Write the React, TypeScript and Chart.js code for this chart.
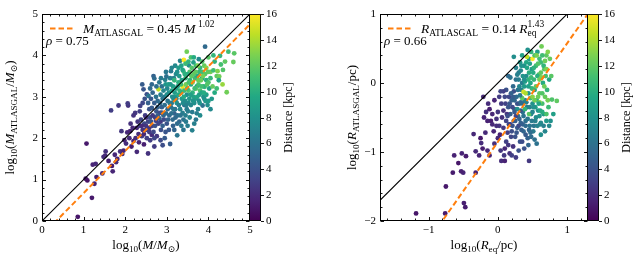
import React, { useEffect, useRef } from 'react';
import { Chart, registerables } from 'chart.js';

Chart.register(...registerables);

const FONT = "'Liberation Serif', 'DejaVu Serif', serif";

// [log10(M/Msun), log10(M_ATLASGAL/Msun), distance kpc]
const massPoints: [number, number, number][] = [
  [0.86,0.10,1.0],[1.07,1.87,1.1],[1.05,1.02,1.3],[1.09,0.98,0.8],[1.20,0.56,1.1],[1.22,1.36,1.6],[1.29,1.38,1.9],[1.31,1.06,1.4],
  [1.26,0.90,1.5],[1.45,1.15,1.8],[1.48,1.55,2.0],[1.53,1.68,2.2],[1.52,1.58,1.9],[1.68,1.33,1.2],[1.70,1.20,1.7],[1.78,1.42,2.0],
  [1.81,1.50,1.6],[1.66,2.67,2.9],[1.84,2.79,2.6],[1.93,1.62,1.9],[1.88,1.68,2.2],[1.96,1.70,1.5],[2.07,2.79,2.4],[2.06,2.84,2.8],
  [2.02,1.87,2.1],[2.05,2.14,1.8],[2.12,2.17,1.6],[1.91,2.17,2.5],[2.13,2.35,2.2],[2.20,1.93,1.5],[2.24,2.61,2.6],[2.28,1.67,1.9],
  [2.55,1.63,2.3],[2.41,3.30,4.6],[2.44,3.18,4.2],[2.52,3.06,3.8],[2.36,2.78,3.0],[2.30,2.40,2.4],[2.28,2.25,1.7],[2.40,2.05,2.7],
  [2.45,1.85,1.4],[2.50,2.20,3.1],[2.48,2.55,2.9],[2.55,2.40,3.4],[2.58,2.70,4.0],[2.64,2.08,2.0],[2.65,2.30,3.3],[2.64,2.73,4.5],
  [2.70,1.80,2.8],[2.72,2.50,3.0],[2.75,2.65,4.3],[2.68,3.50,5.0],[2.70,3.44,5.5],[2.56,3.02,6.2],[2.80,3.18,14.5],[2.84,2.61,3.5],
  [2.85,2.40,2.6],[2.88,2.75,4.8],[2.90,1.83,3.8],[2.92,2.55,5.2],[2.96,3.41,7.0],[2.99,3.49,6.0],[3.00,2.35,4.1],[3.02,2.70,5.5],
  [3.05,3.10,8.0],[3.10,3.62,6.5],[3.17,3.45,7.2],[3.08,1.86,4.7],[3.12,2.85,6.8],[3.15,3.25,9.0],[3.18,2.60,5.0],[3.20,3.00,8.5],
  [3.22,3.55,7.5],[3.25,2.07,6.2],[3.28,3.35,10.0],[3.30,2.40,5.4],[3.32,3.87,7.0],[3.35,3.10,9.5],[3.38,2.61,6.8],[3.38,3.24,15.5],
  [3.41,3.89,16.0],[3.48,4.09,12.5],[3.40,3.62,11.0],[3.42,2.80,5.8],[3.45,3.45,10.5],[3.48,3.05,8.0],[3.52,2.85,7.5],[3.53,3.76,8.0],
  [3.55,3.60,11.5],[3.58,3.30,9.8],[3.61,2.63,6.5],[3.61,2.19,7.0],[3.62,3.10,10.2],[3.64,3.83,9.0],[3.65,3.55,12.0],[3.68,2.95,8.8],
  [3.70,3.75,11.0],[3.72,3.25,9.0],[3.75,2.70,7.0],[3.77,3.91,7.5],[3.77,2.91,7.8],[3.78,3.60,10.5],[3.80,3.15,11.5],[3.86,2.79,6.0],
  [3.85,3.45,9.5],[3.88,3.00,8.2],[3.90,3.75,12.2],[3.92,4.21,5.5],[3.91,3.24,10.8],[3.95,3.40,10.0],[3.98,2.80,7.8],[4.00,3.95,11.8],
  [4.02,3.20,9.2],[4.05,3.60,12.5],[4.08,2.95,8.5],[4.12,3.64,11.0],[4.12,4.00,10.5],[4.15,3.10,9.8],[4.20,3.50,12.0],[4.26,3.49,12.5],
  [4.28,3.99,10.5],[4.30,3.78,11.2],[4.34,3.30,13.5],[4.44,3.11,12.5],[4.48,4.09,11.0],[4.62,4.05,11.8],[4.60,3.84,12.2],[4.05,2.70,7.5],
  [3.35,2.30,6.5],
  [2.32,2.10,2.1],[2.35,2.30,2.8],[2.38,2.45,3.2],[2.42,2.20,2.4],[2.46,2.35,3.6],[2.50,2.50,2.2],[2.52,2.00,3.0],[2.58,2.25,2.5],
  [2.60,2.50,3.8],[2.62,2.40,4.2],[2.66,2.55,2.7],[2.68,2.15,3.5],[2.72,2.30,4.0],[2.74,2.42,3.1],[2.76,2.05,2.6],[2.78,2.55,4.6],
  [2.80,2.35,3.3],[2.82,2.48,5.0],[2.86,2.20,3.9],[2.88,2.62,4.4],[2.90,2.30,4.8],[2.93,2.45,3.6],[2.95,2.80,5.8],[2.97,2.15,4.2],
  [2.35,2.65,2.9],[2.42,2.85,3.4],[2.47,2.95,4.0],[2.55,2.85,4.8],[2.60,3.20,5.5],[2.62,2.95,4.4],[2.66,3.10,5.2],[2.70,2.85,4.6],
  [2.74,3.00,6.0],[2.78,2.90,5.4],[2.82,3.35,6.3],[2.85,3.05,6.8],[2.88,3.25,6.0],[2.92,3.15,7.2],[2.94,3.00,6.5],[2.97,3.30,8.2],
  [2.45,2.10,1.8],[2.25,2.00,2.0],[2.18,2.25,1.8],[2.60,1.95,2.9],[2.70,2.00,3.3],[2.85,1.95,3.6],[2.95,2.00,4.5],
  [3.00,3.05,7.8],[3.02,2.90,6.2],[3.04,3.30,8.8],[3.06,2.55,5.3],[3.08,3.45,7.0],[3.10,2.75,6.0],[3.12,3.15,9.2],[3.14,2.45,5.6],
  [3.16,2.95,7.6],[3.18,3.40,10.5],[3.20,2.70,6.4],[3.22,3.20,9.0],[3.24,2.85,8.0],[3.26,2.55,5.8],[3.28,3.05,9.6],[3.30,3.50,8.5],
  [3.32,2.70,7.2],[3.34,3.30,11.0],[3.36,2.95,8.6],[3.38,3.65,9.4],[3.40,2.45,6.0],[3.42,3.15,10.8],[3.44,2.90,7.7],[3.46,3.30,12.5],
  [3.48,2.70,6.6],[3.50,3.55,9.9],[3.52,3.15,11.5],[3.54,2.95,8.4],[3.56,3.40,10.2],[3.58,2.80,7.4],[3.60,3.70,11.6],[3.62,3.35,12.8],
  [3.64,3.00,9.2],[3.66,2.85,7.8],[3.68,3.45,10.8],[3.70,3.20,12.0],[3.72,2.60,6.8],[3.74,3.50,9.6],[3.76,3.30,11.2],[3.78,3.05,8.8],
  [3.80,3.70,10.4],[3.82,3.40,12.4],[3.84,3.10,9.4],[3.86,3.60,11.0],[3.88,3.25,10.2],[3.90,2.95,8.0],[3.15,2.30,5.0],[3.25,2.35,5.6],
  [3.45,2.55,6.8],[3.55,2.50,7.2],[3.70,2.45,6.4],[3.50,2.30,6.8],[3.20,3.75,7.4],[3.28,3.70,8.6],[3.45,3.80,10.8],[3.58,3.95,11.4],
  [3.65,3.95,9.8],[3.75,3.75,12.8],[3.85,3.85,11.6],[3.95,3.70,13.0],[4.00,3.35,11.4],[4.05,3.45,10.6],[4.10,3.25,12.2],[4.15,3.85,10.2],
  [4.20,3.20,11.0],[4.22,3.62,13.0],[4.25,3.40,9.4],[4.35,3.65,11.6],[4.40,3.85,12.0],[3.95,3.05,9.0],[4.00,2.90,8.6],[3.92,3.55,11.8],
  [2.98,2.60,5.6],[3.01,3.20,7.4],[3.03,2.45,4.9],[3.07,2.85,6.6],[3.09,3.30,8.4],[3.11,2.60,5.9],[3.13,3.00,7.8],[3.16,2.70,6.3],
  [3.19,3.10,8.9],[3.21,2.50,5.5],[3.23,2.95,7.3],[3.26,3.25,9.3],[3.29,2.80,6.9],[3.31,3.15,10.4],[3.33,2.55,6.1],[3.36,3.40,9.1],
  [3.39,2.85,7.6],[3.41,3.00,9.7],[3.43,3.55,10.1],[3.47,2.80,7.0],[3.49,3.20,10.6],[3.51,2.65,6.8],[3.53,3.35,11.3],[3.57,3.05,9.0],
  [3.59,3.50,11.9],[3.63,2.90,8.2],[3.67,3.20,10.9],[3.69,3.60,12.1],[3.73,3.00,9.3],[3.76,3.40,12.3],[3.79,2.85,8.1],[3.83,3.25,11.1],
  [3.87,3.50,12.6],[3.89,3.10,9.8],[3.93,2.90,8.4],[3.97,3.30,11.6],[3.99,3.60,12.0],[3.05,2.20,4.4],[3.18,2.20,5.2],[3.40,2.20,6.2],
  [3.46,2.40,6.6],[3.66,2.35,6.9],[3.80,2.55,7.6],[2.98,3.60,6.4],[3.12,3.70,7.2],[3.25,3.60,8.0],[3.35,3.75,9.2],[3.52,3.85,10.4],
  [2.78,2.75,4.9],[2.84,2.85,5.7],[2.90,2.95,6.2],[2.86,3.45,6.6],[2.75,3.25,5.8],[2.64,3.30,5.4],[2.58,2.15,2.8],[2.50,2.30,2.5],
  [2.40,2.30,2.0],[2.33,1.90,1.6],[2.15,1.80,1.3],[2.20,2.55,2.4],[1.98,1.95,1.7],[2.10,2.00,2.0],[1.75,1.60,1.8],[1.60,1.45,1.3],
];

// [log10(Req/pc), log10(R_ATLASGAL/pc), distance kpc]
const radiusPoints: [number, number, number][] = [
  [-1.18,-1.89,1.0],[-0.76,-1.89,1.2],[-0.75,-1.50,1.1],[-0.49,-1.74,1.4],[-0.47,-1.80,1.3],[-0.63,-1.05,1.5],[-0.65,-1.30,1.2],
  [-0.50,-1.30,1.7],[-0.53,-1.28,1.4],[-0.57,-1.16,1.0],[-0.52,-1.02,1.6],[-0.46,-1.06,1.2],[-0.35,-0.74,1.8],[-0.32,-1.30,1.4],
  [-0.32,-0.99,1.9],[-0.24,-0.87,2.0],[-0.21,-0.20,1.9],[-0.27,-1.05,1.6],[-0.22,-0.95,1.3],[-0.15,-0.98,1.7],[-0.12,-1.05,1.5],
  [-0.25,-0.80,1.1],[-0.18,-0.72,1.9],[-0.20,-0.50,1.6],[-0.17,-0.42,2.2],[-0.12,-0.38,1.4],[-0.14,-0.30,2.0],[-0.08,-0.45,1.8],
  [-0.10,-0.55,1.3],[-0.06,-0.70,1.7],[-0.05,-0.88,2.1],[-0.02,-0.52,2.3],[-0.05,-0.25,1.7],[0.00,-0.80,1.9],[0.02,-0.62,2.4],
  [0.04,-0.98,2.5],[0.05,-1.13,2.0],[0.10,-1.13,1.5],[0.09,-1.05,2.6],[0.12,-0.85,3.0],[0.14,-0.72,2.8],[0.17,-1.02,2.2],
  [0.45,-1.13,2.6],[0.08,-0.40,2.0],[0.05,-0.30,2.8],[0.12,-0.55,3.2],[0.03,-0.75,1.6],[-0.02,-0.62,2.1],[0.10,-0.95,1.8],
  [0.15,-0.90,2.5],[0.20,-1.05,3.0],[0.22,-0.92,2.3],[0.30,-0.98,4.0],[0.26,-1.08,2.8],
  [0.10,-0.20,3.5],[0.12,-0.10,4.0],[0.15,-0.35,4.2],[0.16,-0.60,3.6],[0.18,-0.45,4.8],[0.20,-0.25,5.0],[0.20,-0.70,3.8],
  [0.22,-0.05,5.5],[0.23,-0.55,4.4],[0.24,-0.38,5.2],[0.25,-0.78,4.0],[0.26,0.05,6.0],[0.27,-0.20,5.6],[0.28,-0.65,4.6],
  [0.29,-0.48,5.8],[0.30,0.15,6.5],[0.31,-0.30,6.0],[0.32,-0.85,4.2],[0.33,-0.58,5.0],[0.34,-0.10,7.0],[0.35,0.00,6.6],
  [0.36,-0.42,6.2],[0.37,-0.70,5.4],[0.38,0.25,8.0],[0.39,-0.25,7.2],[0.40,-0.55,5.8],[0.41,0.10,7.6],[0.42,-0.35,6.8],
  [0.43,-0.80,5.0],[0.44,-0.15,8.4],[0.45,0.35,9.0],[0.46,-0.62,6.2],[0.47,0.00,9.6],[0.48,-0.45,7.4],[0.49,0.20,8.8],
  [0.50,0.35,16.0],[0.50,-0.30,8.0],[0.51,-0.70,6.6],[0.52,0.05,10.5],[0.53,-0.10,9.2],[0.54,-0.55,7.0],[0.55,0.25,11.0],
  [0.56,-0.25,10.0],[0.57,0.45,9.0],[0.56,-0.88,6.0],[0.58,-0.40,8.2],[0.59,0.12,11.5],[0.60,-0.15,12.0],[0.61,-0.60,7.6],
  [0.62,0.30,10.8],[0.63,0.53,12.5],[0.64,-0.30,11.2],[0.65,0.00,9.8],[0.66,-0.45,8.6],[0.67,0.20,11.8],[0.68,-0.70,7.2],
  [0.70,0.40,12.0],[0.71,-0.10,10.4],[0.72,-0.25,12.6],[0.74,0.05,9.4],[0.75,0.35,12.2],[0.76,-0.55,8.0],[0.78,-0.24,11.5],
  [0.85,-0.26,12.0],[0.72,0.45,13.0],[0.62,-0.75,7.8],[0.37,-0.13,15.0],[0.40,-0.15,14.0],[0.35,0.40,9.0],[0.32,0.30,8.5],
  [0.02,-0.20,2.8],[0.06,-0.50,2.2],[0.08,-0.65,2.6],[0.11,-0.30,3.1],[0.13,-0.45,2.4],[0.16,-0.20,3.4],[0.18,-0.60,2.9],
  [0.19,-0.78,3.3],[0.21,-0.35,3.6],[0.23,-0.12,3.9],[0.26,-0.48,3.2],[0.28,-0.30,4.1],[0.30,-0.62,3.5],[0.33,-0.40,4.4],
  [0.35,-0.85,3.7],[0.36,-0.60,4.8],[0.38,-0.95,4.0],[0.40,-0.75,4.6],[0.44,-0.90,5.2],[0.48,-0.78,5.6],[0.52,-0.62,6.2],
  [0.45,-0.68,5.4],
  [0.30,0.05,6.8],[0.33,0.18,7.4],[0.36,0.10,8.2],[0.39,0.02,8.8],[0.42,0.22,9.4],[0.44,0.05,10.2],[0.46,0.28,9.0],
  [0.47,-0.22,11.0],[0.49,-0.08,10.6],[0.51,0.15,9.8],[0.53,0.40,11.4],[0.54,-0.35,9.2],[0.55,-0.05,12.0],[0.57,0.10,10.0],
  [0.58,-0.20,12.4],[0.60,0.35,11.0],[0.61,-0.40,9.6],[0.63,0.08,12.8],[0.64,-0.15,11.6],[0.66,0.25,10.4],[0.68,-0.20,12.2],
  [0.69,0.10,11.2],[0.73,-0.35,10.8],[0.80,-0.45,9.0],[0.70,-0.45,11.4],[0.48,0.45,10.5],[0.56,0.40,12.8],[0.43,0.48,8.0],
  [0.42,0.38,14.5],[0.26,0.22,7.0],[0.28,-0.38,8.0],[0.18,0.08,6.2],[0.15,0.10,5.5],[0.23,0.38,7.8],[0.35,-0.22,12.0],
  [0.39,-0.38,10.5],[0.45,-0.45,11.8],[0.50,-0.20,13.2],[0.60,-0.28,13.0],[0.53,-0.25,12.5],
  [0.14,-0.48,3.8],[0.17,-0.30,4.4],[0.19,-0.15,4.9],[0.21,-0.62,4.1],[0.24,-0.25,5.3],[0.25,-0.55,4.7],[0.27,-0.72,4.3],
  [0.29,-0.10,6.2],[0.31,-0.52,5.1],[0.32,-0.18,6.4],[0.34,-0.68,4.9],[0.36,-0.30,5.7],[0.37,-0.48,6.1],[0.38,0.05,7.9],
  [0.40,-0.62,5.5],[0.41,-0.28,6.9],[0.43,-0.52,6.3],[0.44,-0.05,9.1],[0.46,-0.35,7.1],[0.47,-0.72,5.7],[0.49,-0.55,6.5],
  [0.50,-0.42,7.3],[0.52,-0.35,8.1],[0.53,-0.82,5.9],[0.55,-0.50,7.7],[0.57,-0.62,7.1],[0.59,-0.30,9.5],[0.60,-0.48,8.3],
  [0.62,-0.58,7.5],[0.64,-0.42,9.9],[0.66,-0.62,7.0],[0.70,-0.55,8.5],[0.74,-0.62,7.4],[0.28,0.12,7.0],[0.31,-0.05,7.3],
  [0.34,0.25,8.2],[0.41,0.30,9.6],[0.52,0.22,10.2],[0.58,0.28,11.6],[0.64,0.40,11.0],[0.67,-0.05,12.4],[0.62,0.15,12.0],
  [0.48,0.08,10.8],[0.45,0.15,9.9],[0.38,-0.05,8.7],[0.33,-0.28,5.5],[0.24,-0.42,4.5],[0.22,-0.20,4.7],[0.08,-0.12,3.0],
  [-0.08,-0.60,1.8],[-0.15,-0.55,1.5],[0.00,-0.42,2.5],[0.04,-0.12,3.3],[0.60,0.05,12.6],[0.70,0.20,12.8],[0.77,0.10,11.8],
  [0.68,0.32,12.4],
];

const massTicks = [0, 1, 2, 3, 4, 5];
const radiusXTicks = [-1, 0, 1];
const radiusYTicks = [-2, -1, 0, 1];
const distanceTicks = [0, 2, 4, 6, 8, 10, 12, 14, 16];
const distanceRange = [0, 16];

const massFit = { a: 0.45, b: 1.02, rho: '0.75', aText: '0.45', bText: '1.02' };
const radiusFit = { a: 0.14, b: 1.43, rho: '0.66', aText: '0.14', bText: '1.43' };

const VIRIDIS = [
  '#440154', '#482475', '#414487', '#355f8d', '#2a788e', '#21918c',
  '#22a884', '#44bf70', '#7ad151', '#bddf26', '#fde725',
];

function hexToRgb(h: string) {
  return [parseInt(h.slice(1, 3), 16), parseInt(h.slice(3, 5), 16), parseInt(h.slice(5, 7), 16)];
}

function viridis(t: number) {
  const c = Math.max(0, Math.min(1, t)) * (VIRIDIS.length - 1);
  const i = Math.min(Math.floor(c), VIRIDIS.length - 2);
  const f = c - i;
  const a = hexToRgb(VIRIDIS[i]);
  const b = hexToRgb(VIRIDIS[i + 1]);
  const m = a.map((v, k) => Math.round(v + (b[k] - v) * f));
  return `rgb(${m[0]},${m[1]},${m[2]})`;
}

type Seg = { t: string; it?: boolean; sub?: boolean; sup?: boolean; stack?: boolean };

function segFont(s: Seg, size: number) {
  const sz = s.sub || s.sup ? size * 0.7 : size;
  return `${s.it ? 'italic ' : ''}${sz}px ${FONT}`;
}

function richWidth(ctx: CanvasRenderingContext2D, segs: Seg[], size: number) {
  let w = 0;
  for (const s of segs) {
    ctx.font = segFont(s, size);
    if (!s.stack) w += ctx.measureText(s.t).width;
  }
  return w;
}

function drawRich(ctx: CanvasRenderingContext2D, segs: Seg[], x: number, y: number, size: number, align: 'left' | 'center') {
  const w = richWidth(ctx, segs, size);
  let cx = align === 'center' ? x - w / 2 : x;
  ctx.textAlign = 'left';
  ctx.textBaseline = 'alphabetic';
  for (const s of segs) {
    ctx.font = segFont(s, size);
    const dy = s.sub ? size * 0.25 : s.sup ? -size * 0.42 : 0;
    ctx.fillText(s.t, cx, y + dy);
    if (!s.stack) cx += ctx.measureText(s.t).width;
  }
}

type PanelCfg = {
  xTitle: Seg[];
  yTitle: Seg[];
  yTitleX: number;
  legend: Seg[];
  rho: Seg[];
};

const MINOR = 0.2;

function makePanelPlugin(cfg: PanelCfg) {
  return {
    id: 'panelDecor',
    afterDraw(chart: any) {
      const { ctx, chartArea: a, scales } = chart;
      const xs = scales.x, ys = scales.y, cs = scales.cb;
      const L = Math.round(a.left) + 0.5, R = Math.round(a.right) - 0.5;
      const T = Math.round(a.top) + 0.5, B = Math.round(a.bottom) - 0.5;
      ctx.save();
      ctx.strokeStyle = '#000';
      ctx.fillStyle = '#000';
      ctx.lineWidth = 0.9;

      const isMajor = (v: number) => Math.abs(v - Math.round(v)) < 1e-6;
      for (let k = Math.ceil(xs.min / MINOR - 1e-6); k * MINOR <= xs.max + 1e-6; k++) {
        const v = k * MINOR;
        const len = isMajor(v) ? 3.5 : 2;
        const px = Math.round(xs.getPixelForValue(v)) + 0.5;
        ctx.beginPath();
        ctx.moveTo(px, B); ctx.lineTo(px, B - len);
        ctx.moveTo(px, T); ctx.lineTo(px, T + len);
        ctx.stroke();
      }
      for (let k = Math.ceil(ys.min / MINOR - 1e-6); k * MINOR <= ys.max + 1e-6; k++) {
        const v = k * MINOR;
        const len = isMajor(v) ? 3.5 : 2;
        const py = Math.round(ys.getPixelForValue(v)) + 0.5;
        ctx.beginPath();
        ctx.moveTo(L, py); ctx.lineTo(L + len, py);
        ctx.moveTo(R, py); ctx.lineTo(R - len, py);
        ctx.stroke();
      }
      ctx.lineWidth = 1;
      ctx.strokeRect(L, T, R - L, B - T);

      // colorbar
      const cbL = a.right, cbW = 11;
      const y0 = cs.getPixelForValue(distanceRange[0]);
      const y1 = cs.getPixelForValue(distanceRange[1]);
      const g = ctx.createLinearGradient(0, y0, 0, y1);
      for (let i = 0; i <= 20; i++) g.addColorStop(i / 20, viridis(i / 20));
      ctx.fillStyle = g;
      ctx.fillRect(cbL, y1, cbW, y0 - y1);
      ctx.strokeStyle = '#000';
      ctx.lineWidth = 0.9;
      ctx.strokeRect(Math.round(cbL) - 0.5, Math.round(y1) + 0.5, cbW, Math.round(y0 - y1) - 1);
      ctx.fillStyle = '#000';
      ctx.font = `11px ${FONT}`;
      ctx.textAlign = 'left';
      ctx.textBaseline = 'middle';
      for (const v of distanceTicks) {
        const py = Math.round(cs.getPixelForValue(v)) + 0.5;
        ctx.beginPath();
        ctx.moveTo(cbL + cbW, py); ctx.lineTo(cbL + cbW + 3, py);
        ctx.stroke();
        ctx.fillText(String(v), cbL + cbW + 5, py);
      }
      ctx.save();
      ctx.translate(cbL + cbW + 28, (a.top + a.bottom) / 2);
      ctx.rotate(-Math.PI / 2);
      ctx.font = `12px ${FONT}`;
      ctx.textAlign = 'center';
      ctx.textBaseline = 'middle';
      ctx.fillText('Distance [kpc]', 0, 0);
      ctx.restore();

      // axis titles
      ctx.fillStyle = '#000';
      drawRich(ctx, cfg.xTitle, (a.left + a.right) / 2, 249, 13, 'center');
      ctx.save();
      ctx.translate(cfg.yTitleX, (a.top + a.bottom) / 2);
      ctx.rotate(-Math.PI / 2);
      drawRich(ctx, cfg.yTitle, 0, 0, 13, 'center');
      ctx.restore();

      // legend
      ctx.save();
      ctx.strokeStyle = '#ff7f0e';
      ctx.lineWidth = 2;
      ctx.setLineDash([5.5, 3]);
      ctx.beginPath();
      ctx.moveTo(a.left + 8, 28.5);
      ctx.lineTo(a.left + 31, 28.5);
      ctx.stroke();
      ctx.restore();
      drawRich(ctx, cfg.legend, a.left + 41, 32.5, 13.5, 'left');
      drawRich(ctx, cfg.rho, a.left + 4, 44.5, 13, 'left');
      ctx.restore();
    },
  };
}

function fmt(v: number) {
  return v < 0 ? '\u2212' + Math.abs(v) : String(v);
}

type PanelProps = {
  points: [number, number, number][];
  xRange: [number, number];
  yRange: [number, number];
  xTicks: number[];
  yTicks: number[];
  fit: { a: number; b: number };
  yAxisWidth: number;
  rightPad: number;
  cfg: PanelCfg;
};

function Panel(p: PanelProps) {
  const ref = useRef<HTMLCanvasElement>(null);
  useEffect(() => {
    const [x0, x1] = p.xRange;
    const la = Math.log10(p.fit.a);
    const chart = new Chart(ref.current!, {
      type: 'scatter',
      data: {
        datasets: [
          {
            type: 'line',
            data: [{ x: x0, y: la + p.fit.b * x0 }, { x: x1, y: la + p.fit.b * x1 }],
            borderColor: '#ff7f0e',
            borderWidth: 2,
            borderDash: [5.5, 3],
            pointRadius: 0,
            fill: false,
            clip: 0,
          } as any,
          {
            type: 'line',
            data: [{ x: x0, y: x0 }, { x: x1, y: x1 }],
            borderColor: '#000',
            borderWidth: 1.1,
            pointRadius: 0,
            fill: false,
            clip: 0,
          } as any,
          {
            data: p.points.map(([x, y]) => ({ x, y })),
            pointRadius: 2.4,
            pointBorderWidth: 0,
            pointBackgroundColor: p.points.map((q) => viridis((q[2] - distanceRange[0]) / (distanceRange[1] - distanceRange[0]))),
          } as any,
        ],
      },
      options: {
        responsive: false,
        animation: false,
        events: [],
        layout: { padding: { left: 0, top: 14, right: p.rightPad, bottom: 0 } },
        plugins: { legend: { display: false }, tooltip: { enabled: false } },
        scales: {
          x: {
            type: 'linear',
            min: x0,
            max: x1,
            afterBuildTicks: (s: any) => { s.ticks = p.xTicks.map((v) => ({ value: v })); },
            afterFit: (s: any) => { s.height = 43; },
            grid: { display: false, drawTicks: false, tickLength: 0 },
            border: { display: false },
            ticks: {
              autoSkip: false,
              maxRotation: 0,
              padding: 3,
              color: '#000',
              font: { family: FONT, size: 11 },
              callback: (v: any) => fmt(Number(v)),
            },
          },
          y: {
            type: 'linear',
            min: p.yRange[0],
            max: p.yRange[1],
            afterBuildTicks: (s: any) => { s.ticks = p.yTicks.map((v) => ({ value: v })); },
            afterFit: (s: any) => { s.width = p.yAxisWidth; },
            grid: { display: false, drawTicks: false, tickLength: 0 },
            border: { display: false },
            ticks: {
              autoSkip: false,
              padding: 4,
              color: '#000',
              font: { family: FONT, size: 11 },
              callback: (v: any) => fmt(Number(v)),
            },
          },
          cb: {
            type: 'linear',
            axis: 'y',
            position: 'right',
            display: false,
            min: distanceRange[0],
            max: distanceRange[1],
          },
        },
      } as any,
      plugins: [makePanelPlugin(p.cfg)],
    });
    return () => chart.destroy();
  }, []);
  return <canvas ref={ref} width={321} height={264} style={{ display: 'block', width: 321, height: 264 }} />;
}

const massCfg: PanelCfg = {
  xTitle: [{ t: 'log' }, { t: '10', sub: true }, { t: '(' }, { t: 'M', it: true }, { t: '/' }, { t: 'M', it: true }, { t: '\u2299', sub: true }, { t: ')' }],
  yTitle: [{ t: 'log' }, { t: '10', sub: true }, { t: '(' }, { t: 'M', it: true }, { t: 'ATLASGAL', sub: true }, { t: '/' }, { t: 'M', it: true }, { t: '\u2299', sub: true }, { t: ')' }],
  yTitleX: 14,
  legend: [{ t: 'M', it: true }, { t: 'ATLASGAL', sub: true }, { t: ' = ' + massFit.aText + ' ' }, { t: 'M', it: true }, { t: ' ' + massFit.bText, sup: true }],
  rho: [{ t: '\u03c1', it: true }, { t: ' = ' + massFit.rho }],
};

const radiusCfg: PanelCfg = {
  xTitle: [{ t: 'log' }, { t: '10', sub: true }, { t: '(' }, { t: 'R', it: true }, { t: 'eq', sub: true }, { t: '/pc)' }],
  yTitle: [{ t: 'log' }, { t: '10', sub: true }, { t: '(' }, { t: 'R', it: true }, { t: 'ATLASGAL', sub: true }, { t: '/pc)' }],
  yTitleX: 35,
  legend: [{ t: 'R', it: true }, { t: 'ATLASGAL', sub: true }, { t: ' = ' + radiusFit.aText + ' ' }, { t: 'R', it: true }, { t: 'eq', sub: true, stack: true }, { t: radiusFit.bText, sup: true }],
  rho: [{ t: '\u03c1', it: true }, { t: ' = ' + radiusFit.rho }],
};

export default function App() {
  return (
    <div style={{ position: 'fixed', left: 0, top: 0, width: 642, height: 264, display: 'flex', background: '#fff' }}>
      <Panel
        points={massPoints}
        xRange={[0, 5]}
        yRange={[0, 5]}
        xTicks={massTicks}
        yTicks={massTicks}
        fit={massFit}
        yAxisWidth={42}
        rightPad={71}
        cfg={massCfg}
      />
      <Panel
        points={radiusPoints}
        xRange={[-1.7, 1.3]}
        yRange={[-2, 1]}
        xTicks={radiusXTicks}
        yTicks={radiusYTicks}
        fit={radiusFit}
        yAxisWidth={59}
        rightPad={54}
        cfg={radiusCfg}
      />
    </div>
  );
}
